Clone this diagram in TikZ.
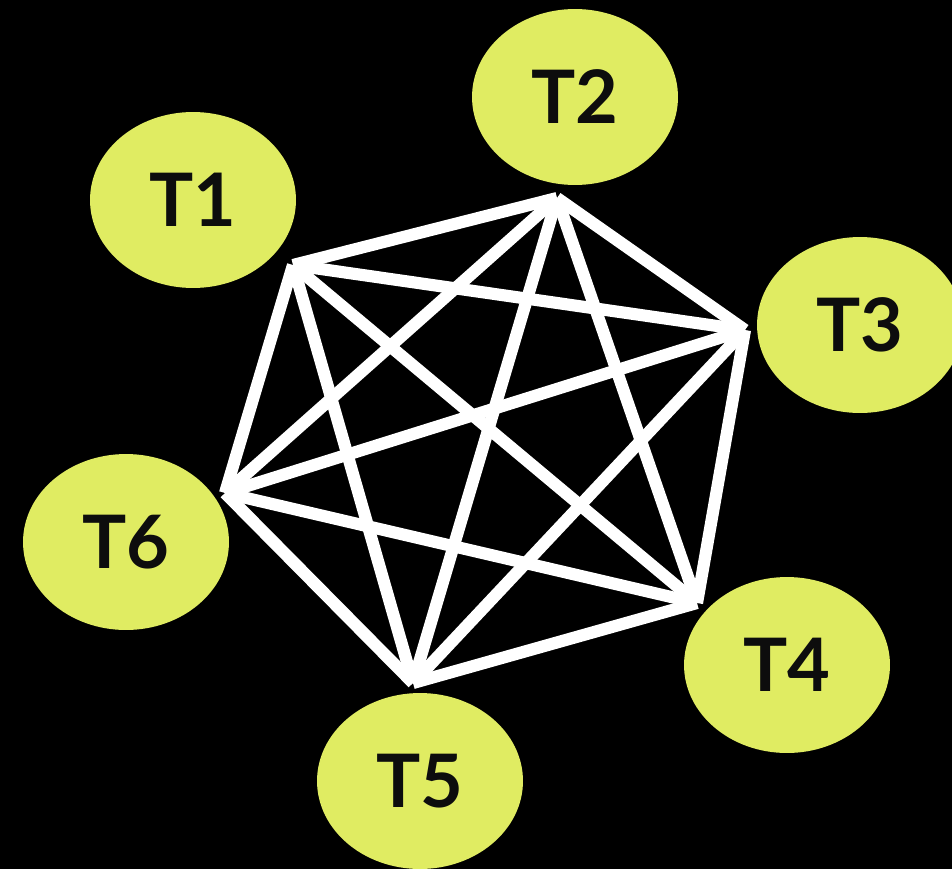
\documentclass[tikz,border=0pt]{standalone}
\usepackage{fontspec}
\setmainfont{Lato}
\usetikzlibrary{shapes.geometric,backgrounds}
\definecolor{figlime}{RGB}{224,236,98}
\definecolor{figink}{gray}{0.05}
\tikzset{
  fig/.style={x=0.02cm,y=-0.02cm},
  task/.style={ellipse,fill=figlime,minimum width=4.12cm,minimum height=3.52cm,
               inner sep=0pt,text=figink,font=\fontsize{42}{50}\selectfont\bfseries},
  edge/.style={draw=white,line width=6.9pt},
}

\begin{document}
\begin{tikzpicture}[fig]

% ------------------------------------------------ background
\fill[black] (0,0) rectangle (952,869);
\useasboundingbox (0,0) rectangle (952,869);

% ------------------------------------------------ the tasks
\foreach \x/\y [count=\n from 1] in {193/200, 575/97, 860/325, 787/665, 420/781, 126/542}
  {\node[task] (t\n) at (\x,\y) {T\n};}

% ------------------------------------------------ corners of the graph
\foreach \x/\y [count=\n from 1] in {293/265, 557/198, 745/330, 697/603, 413/683, 225/493}
  {\coordinate (v\n) at (\x,\y);}

% every pair joined
\foreach \i in {1,...,5}{
  \pgfmathtruncatemacro{\first}{\i+1}
  \foreach \j in {\first,...,6}
    {\draw[edge] (v\i) -- (v\j);}
}

\end{tikzpicture}
\end{document}
